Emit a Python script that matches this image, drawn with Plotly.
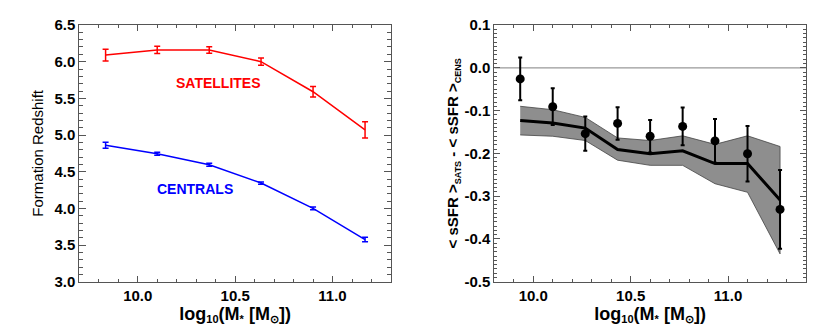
import plotly.graph_objects as go

# left panel: formation redshift vs stellar mass
mass_left = [9.835, 10.1, 10.367, 10.633, 10.9, 11.167]
z_sat = [6.09, 6.16, 6.16, 6.00, 5.59, 5.07]
z_sat_err = [0.08, 0.05, 0.045, 0.05, 0.07, 0.11]
z_cen = [4.86, 4.745, 4.595, 4.345, 4.0, 3.575]
z_cen_err = [0.04, 0.02, 0.02, 0.015, 0.02, 0.03]

# right panel: <sSFR>_sats - <sSFR>_cens
mass_right = [9.933, 10.1, 10.267, 10.433, 10.6, 10.767, 10.933, 11.1, 11.267]
dssfr_obs = [-0.026, -0.091, -0.154, -0.130, -0.160, -0.137, -0.171, -0.201, -0.331]
dssfr_err = [0.05, 0.043, 0.04, 0.038, 0.038, 0.044, 0.051, 0.065, 0.092]
dssfr_model = [-0.123, -0.129, -0.141, -0.191, -0.201, -0.194, -0.224, -0.224, -0.309]
model_hi = [-0.090, -0.098, -0.116, -0.164, -0.170, -0.159, -0.179, -0.159, -0.184]
model_lo = [-0.157, -0.160, -0.170, -0.216, -0.228, -0.228, -0.271, -0.291, -0.435]

x_ticks = [10.0, 10.5, 11.0]
x_labels = ["10.0", "10.5", "11.0"]
left_yticks = [3.0, 3.5, 4.0, 4.5, 5.0, 5.5, 6.0, 6.5]
left_ylabels = ["3.0", "3.5", "4.0", "4.5", "5.0", "5.5", "6.0", "6.5"]
right_yticks = [-0.5, -0.4, -0.3, -0.2, -0.1, 0.0, 0.1]
right_ylabels = ["-0.5", "-0.4", "-0.3", "-0.2", "-0.1", "0.0", "0.1"]

FONT = "Liberation Sans, Arial, sans-serif"
AX = "#555555"

fig = go.Figure()

fig.add_trace(go.Scatter(
    x=mass_left, y=z_sat, mode="lines",
    line=dict(color="#ff0000", width=1.5),
    error_y=dict(array=z_sat_err, color="#ff0000", thickness=1.5, width=3),
    xaxis="x", yaxis="y",
))
fig.add_trace(go.Scatter(
    x=mass_left, y=z_cen, mode="lines",
    line=dict(color="#0000ff", width=1.5),
    error_y=dict(array=z_cen_err, color="#0000ff", thickness=1.5, width=3),
    xaxis="x", yaxis="y",
))

# model band
fig.add_trace(go.Scatter(
    x=mass_right + mass_right[::-1], y=model_hi + model_lo[::-1],
    fill="toself", fillcolor="#8e8e8e", mode="lines",
    line=dict(color="#444444", width=0.8),
    xaxis="x2", yaxis="y2",
))
fig.add_trace(go.Scatter(
    x=[9.8, 11.4], y=[0.0, 0.0], mode="lines",
    line=dict(color="#999999", width=1.2),
    xaxis="x2", yaxis="y2",
))
fig.add_trace(go.Scatter(
    x=mass_right, y=dssfr_model, mode="lines",
    line=dict(color="black", width=3),
    xaxis="x2", yaxis="y2",
))
fig.add_trace(go.Scatter(
    x=mass_right, y=dssfr_obs, mode="markers",
    marker=dict(color="black", size=9),
    error_y=dict(array=dssfr_err, color="black", thickness=2, width=2),
    xaxis="x2", yaxis="y2",
))


def small_sub(s, px):
    return '<sub><span style="font-size:%dpx">%s</span></sub>' % (px, s)


x_title = "log" + small_sub("10", 11) + "(M" + small_sub("*", 11) + " [M" + small_sub("⊙", 11) + "])"
y2_title = "< sSFR >" + small_sub("SATS", 9) + " - < sSFR >" + small_sub("CENS", 9)
tickfont = dict(family=FONT, size=15, color="black", weight="bold")
xtitle_font = dict(family=FONT, size=18, color="black", weight="bold")

common = dict(
    showline=True, linecolor=AX, linewidth=1, mirror="allticks",
    ticks="inside", tickcolor=AX, showgrid=False, zeroline=False,
    tickfont=tickfont, automargin=False,
)

# the page body has an 8px margin, so domains are shifted up/left by 8px
fig.update_layout(
    width=830, height=332,
    margin=dict(l=0, r=0, t=0, b=0),
    paper_bgcolor="white", plot_bgcolor="white",
    showlegend=False,
    xaxis=dict(
        domain=[0.0859, 0.4614], range=[9.7, 11.3], anchor="y",
        tickvals=x_ticks, ticktext=x_labels, ticklen=6,
        minor=dict(dtick=0.1, tick0=9.7, ticklen=3, ticks="inside", tickcolor=AX),
        title=dict(text=x_title, font=xtitle_font, standoff=0),
        **common,
    ),
    yaxis=dict(
        domain=[0.1756, 0.9488], range=[3.0, 6.5], anchor="x",
        tickvals=left_yticks, ticktext=left_ylabels, ticklen=7,
        minor=dict(dtick=0.1, tick0=3.0, ticklen=4, ticks="inside", tickcolor=AX),
        title=dict(text="Formation Redshift", font=dict(family=FONT, size=15, color="black"), standoff=7),
        **common,
    ),
    xaxis2=dict(
        domain=[0.5859, 0.9614], range=[9.8, 11.4], anchor="y2",
        tickvals=x_ticks, ticktext=x_labels, ticklen=6,
        minor=dict(dtick=0.1, tick0=9.8, ticklen=3, ticks="inside", tickcolor=AX),
        title=dict(text=x_title, font=xtitle_font, standoff=0),
        **common,
    ),
    yaxis2=dict(
        domain=[0.1756, 0.9488], range=[-0.5, 0.1], anchor="x2",
        tickvals=right_yticks, ticktext=right_ylabels, ticklen=6,
        minor=dict(dtick=0.01, tick0=0.0, ticklen=3, ticks="inside", tickcolor=AX),
        title=dict(text=y2_title, font=dict(family=FONT, size=15, color="black", weight="bold"), standoff=2),
        **common,
    ),
    annotations=[
        dict(x=10.417, y=5.71, xref="x", yref="y", text="SATELLITES", showarrow=False,
             font=dict(family=FONT, size=14, color="#ff0000", weight="bold")),
        dict(x=10.294, y=4.26, xref="x", yref="y", text="CENTRALS", showarrow=False,
             font=dict(family=FONT, size=14, color="#0000ff", weight="bold")),
    ],
)

fig.write_html("out.html")
